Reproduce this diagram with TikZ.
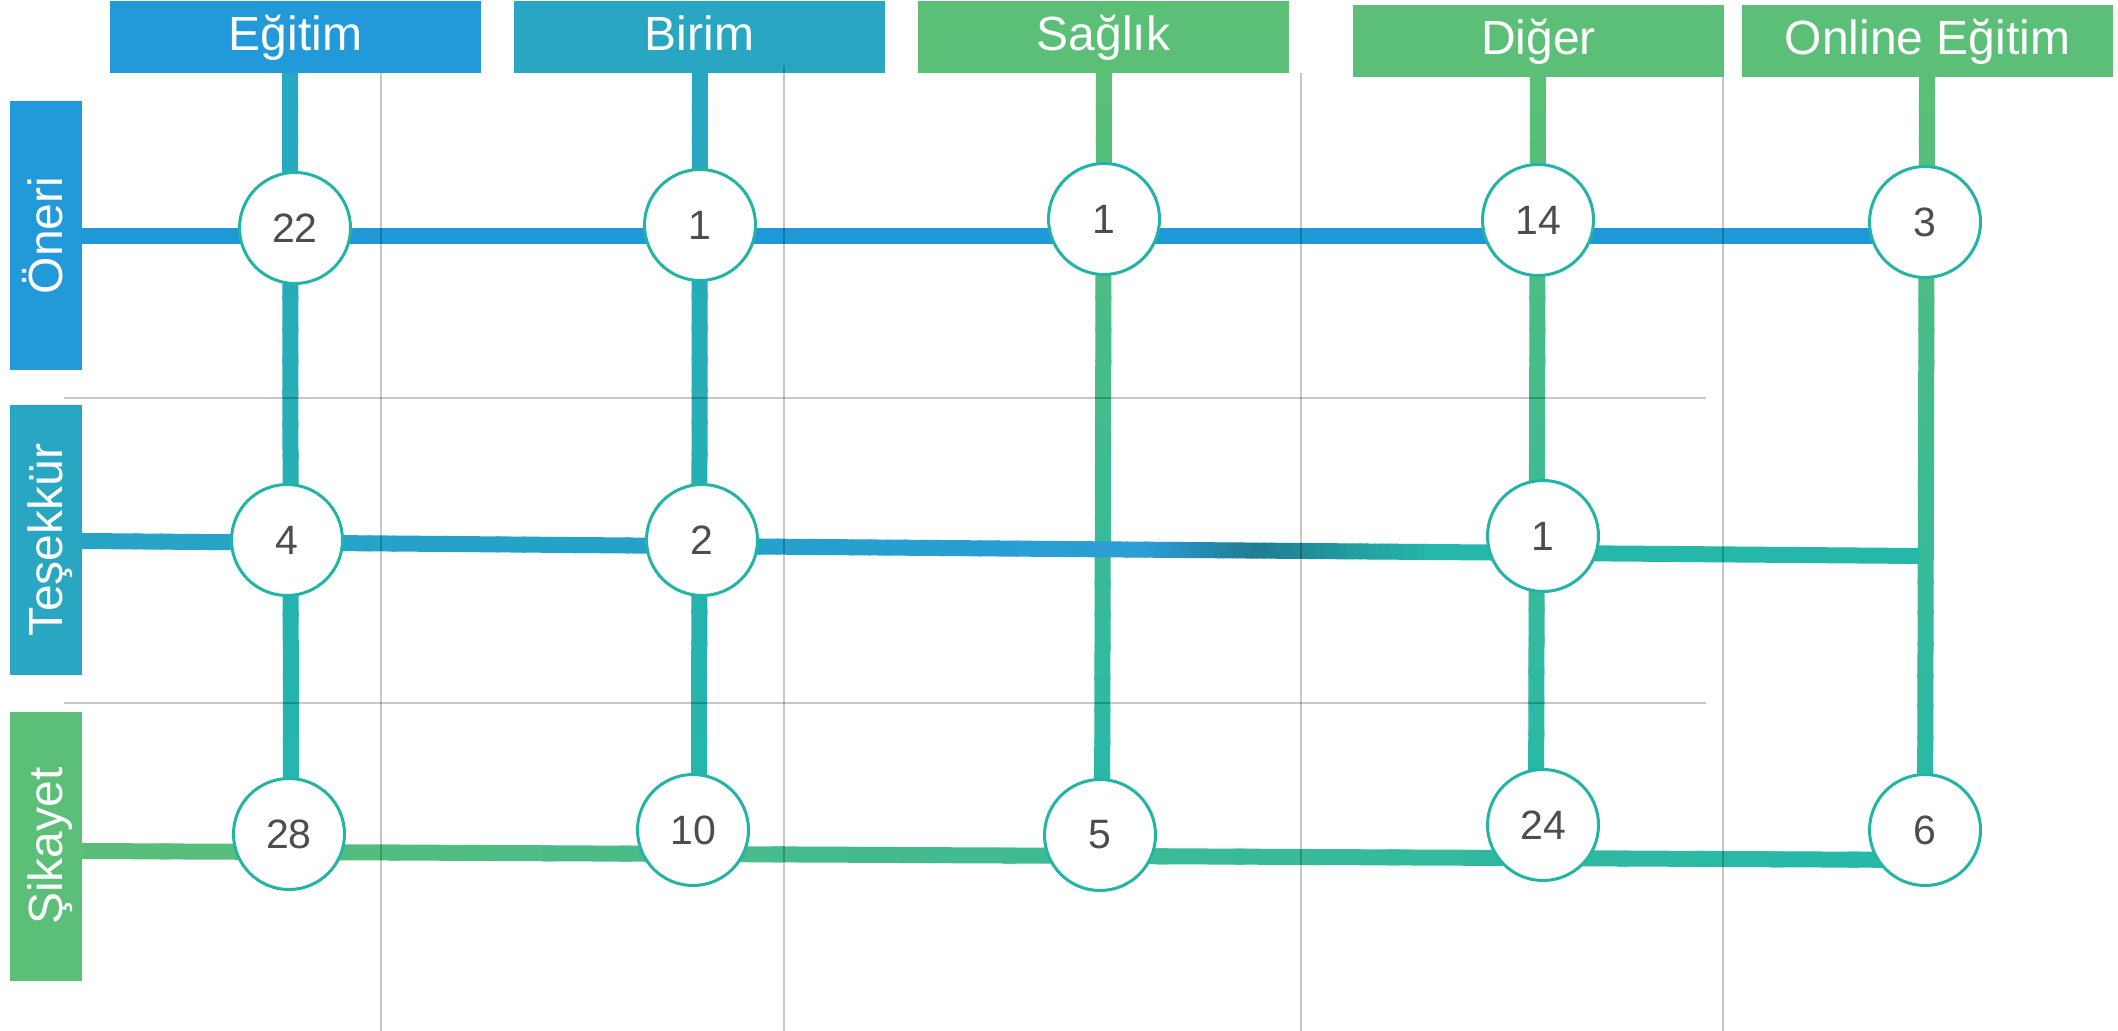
\documentclass[tikz,border=0pt]{standalone}
\usepackage{fontspec}
\setmainfont{Liberation Sans}
\usetikzlibrary{calc}
\definecolor{cBlue}{HTML}{2299D8}
\definecolor{cTeal}{HTML}{28A6C2}
\definecolor{cGreen}{HTML}{5BBF77}
\definecolor{cCirc}{HTML}{22B5A6}
\definecolor{cNum}{HTML}{4D4D4D}
\definecolor{lBlue}{HTML}{1E98D6}
\definecolor{lTealBlue}{HTML}{27A4C5}
\definecolor{lTealBlueB}{HTML}{25A1CB}
\definecolor{lBlueB}{HTML}{2A9ED6}
\definecolor{lDark}{HTML}{1F7C92}
\definecolor{lTurq}{HTML}{25B8AA}
\definecolor{lGreen}{HTML}{5BBE79}
\definecolor{lGreenTop}{HTML}{5CBF75}
\newcommand\gradseg[4]{%
  \foreach \i in {0,...,23}{%
    \pgfmathsetmacro\ta{\i/24}%
    \pgfmathsetmacro\tb{(\i+1.15)/24}%
    \pgfmathtruncatemacro\mixv{100-100*(\i+0.5)/24}%
    \draw[line width=8pt, color=#3!\mixv!#4] ($(#1)!\ta!(#2)$) -- ($(#1)!\tb!(#2)$);
  }}
\tikzset{
  hbox/.style={fill=#1, text=white, minimum width=185.5pt, minimum height=36pt, inner sep=0pt,
    font=\fontsize{24}{28}\selectfont, text height=19pt, text depth=5pt},
  rbox/.style={fill=#1, text=white, rotate=90, minimum width=134.5pt, minimum height=36pt, inner sep=0pt,
    font=\fontsize{24}{28}\selectfont, text height=20pt, text depth=4pt},
  num/.style={circle, draw=cCirc, fill=white, line width=1.5pt, minimum size=55.5pt, inner sep=0pt,
    text=cNum, font=\fontsize{20.5}{24}\selectfont},
  gridline/.style={draw=black, opacity=0.22, line width=1pt},
}
\begin{document}
\begin{tikzpicture}[x=0.5pt, y=-0.5pt]
\useasboundingbox (0,0) rectangle (2118,1031);
% endpoints of connectors
\coordinate (v1a) at (290,73);   \coordinate (v1b) at (291,834);
\coordinate (v2a) at (700,73);   \coordinate (v2b) at (699,830);
\coordinate (v3a) at (1104,73);  \coordinate (v3b) at (1102,835);
\coordinate (v4a) at (1538,77);  \coordinate (v4b) at (1536,825);
\coordinate (v5a) at (1927,77);  \coordinate (v5b) at (1925,830);
\coordinate (h1a) at (82,236);   \coordinate (h1b) at (1925,236);
\coordinate (h2a) at (82,541);   \coordinate (h2b) at (1919,556);
\coordinate (h3a) at (82,851);   \coordinate (h3b) at (1925,860);
\coordinate (h2s1) at ($(h2a)!0.338!(h2b)$);
\coordinate (h2s2) at ($(h2a)!0.578!(h2b)$);
\coordinate (h2s3) at ($(h2a)!0.639!(h2b)$);
\coordinate (h2s4) at ($(h2a)!0.736!(h2b)$);
% vertical connectors
\gradseg{v1a}{v1b}{cTeal}{lTurq}
\gradseg{v2a}{v2b}{cTeal}{lTurq}
\gradseg{v3a}{v3b}{lGreenTop}{lTurq}
\gradseg{v4a}{v4b}{lGreenTop}{lTurq}
\gradseg{v5a}{v5b}{lGreenTop}{lTurq}
% horizontal connectors
\draw[line width=8pt, lBlue] (h1a) -- (h1b);
\gradseg{h2a}{h2s1}{lTealBlue}{lTealBlueB}
\gradseg{h2s1}{h2s2}{lTealBlueB}{lBlueB}
\gradseg{h2s2}{h2s3}{lBlueB}{lDark}
\gradseg{h2s3}{h2s4}{lDark}{lTurq}
\draw[line width=8pt, lTurq] (h2s4) -- (h2b);
\gradseg{h3a}{h3b}{lGreen}{lTurq}
% header boxes
\node[hbox=cBlue]  (hEgitim) at (295.5,37)  {Eğitim};
\node[hbox=cTeal]  (hBirim)  at (699.5,37)  {Birim};
\node[hbox=cGreen] (hSaglik) at (1103.5,37) {Sağlık};
\node[hbox=cGreen] (hDiger)  at (1538.5,41) {Diğer};
\node[hbox=cGreen] (hOnline) at (1927.5,41) {Online Eğitim};
% row boxes
\node[rbox=cBlue]  (rOneri)    at (46,235.5) {Öneri};
\node[rbox=cTeal]  (rTesekkur) at (46,540)   {Teşekkür};
\node[rbox=cGreen] (rSikayet)  at (46,846)   {Şikayet};
% grid
\draw[gridline] (64,398) -- (1706,398);
\draw[gridline] (64,703) -- (1706,703);
\draw[gridline] (381,73) -- (381,1031);
\draw[gridline] (784,66) -- (784,1031);
\draw[gridline] (1301,73) -- (1301,1031);
\draw[gridline] (1723,77) -- (1723,1031);
% value circles
\node[num] (c11) at (295,228)  {22};
\node[num] (c12) at (700,225)  {1};
\node[num] (c13) at (1104,219) {1};
\node[num] (c14) at (1538,220) {14};
\node[num] (c15) at (1925,222) {3};
\node[num] (c21) at (287,540)  {4};
\node[num] (c22) at (702,540)  {2};
\node[num] (c24) at (1543,536) {1};
\node[num] (c31) at (289,834)  {28};
\node[num] (c32) at (693,830)  {10};
\node[num] (c33) at (1100,835) {5};
\node[num] (c34) at (1543,825) {24};
\node[num] (c35) at (1925,830) {6};
\end{tikzpicture}
\end{document}
